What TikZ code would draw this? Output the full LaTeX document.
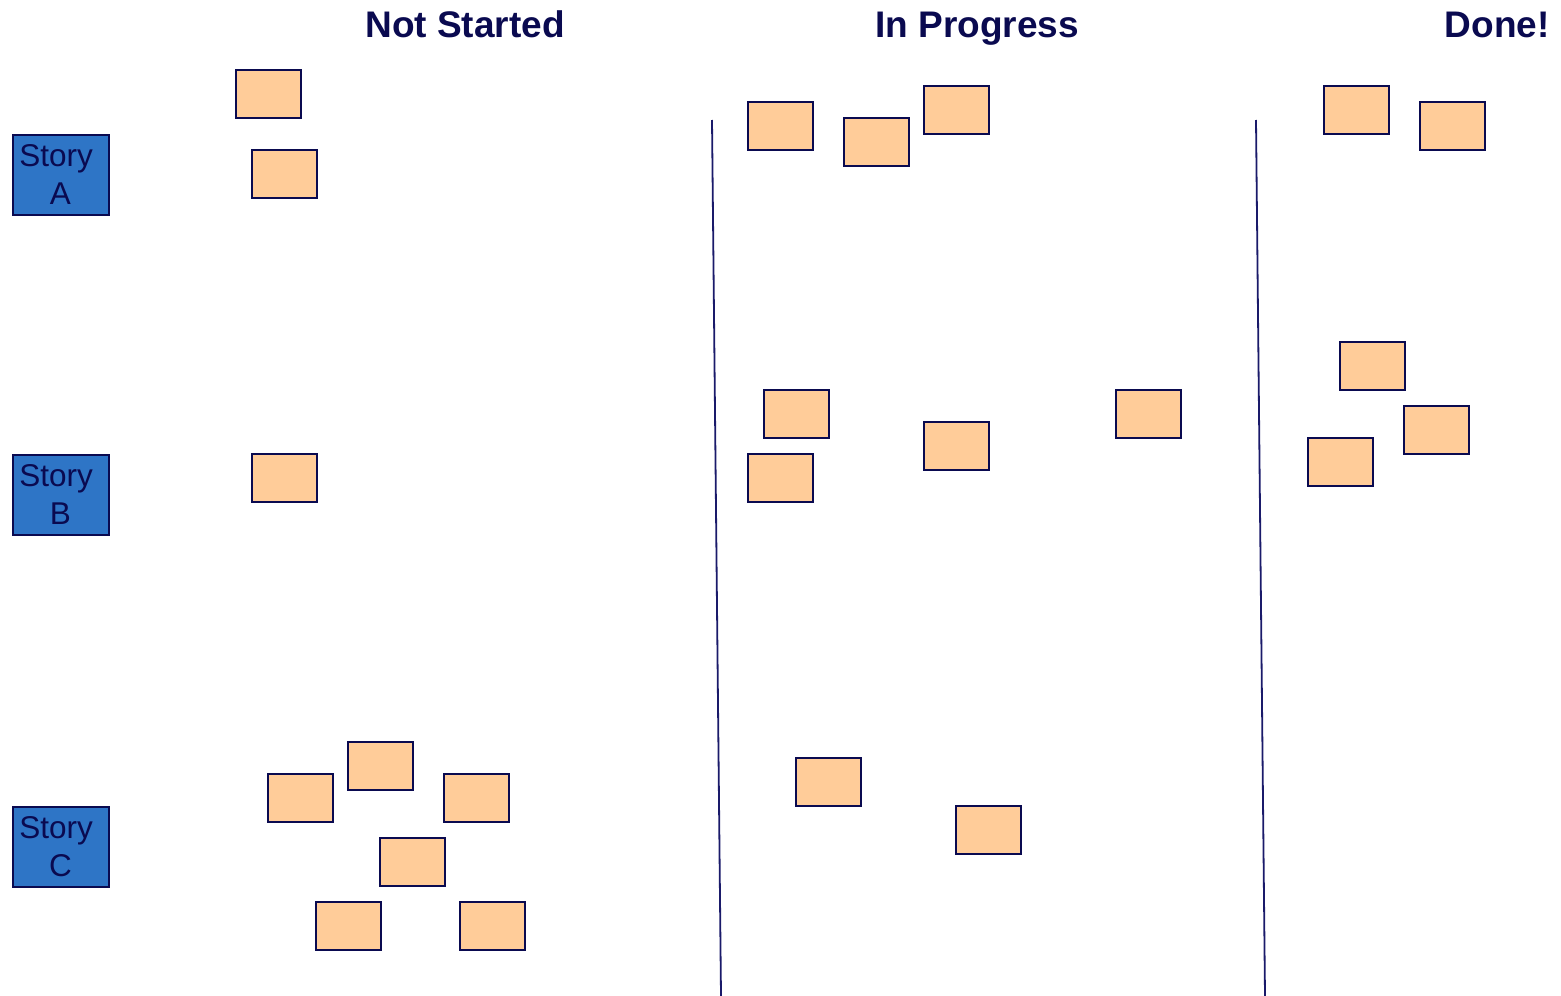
\documentclass[tikz,border=0pt]{standalone}
\usepackage{fontspec}
\setmainfont{Liberation Sans}
\definecolor{navy}{HTML}{0A0A50}
\definecolor{linecol}{HTML}{1A1A6A}
\definecolor{storyfill}{HTML}{2E75C6}
\definecolor{notefill}{HTML}{FFCC99}
\begin{document}
\begin{tikzpicture}[x=1pt,y=-1pt,
  note/.style={draw=navy,line width=1.8pt,fill=notefill},
  story/.style={draw=navy,line width=2pt,fill=storyfill,minimum width=96pt,minimum height=80pt,inner sep=0pt,align=center,text=navy,font=\fontsize{31.5}{38}\selectfont},
  header/.style={text=navy,font=\fontsize{37}{40}\selectfont\bfseries,inner sep=0pt},
  divider/.style={draw=linecol,line width=1.8pt}]
\useasboundingbox (0,0) rectangle (1561,996);
% headers
\node[header,anchor=base] (h1) at (465,37.5) {Not Started};
\node[header,anchor=base] (h2) at (977,37.5) {In Progress};
\node[header,anchor=base east] (h3) at (1550,37.5) {Done!};
% dividers
\coordinate (d1a) at (712,120); \coordinate (d1b) at (721,996);
\coordinate (d2a) at (1256,120); \coordinate (d2b) at (1265,996);
\draw[divider] (d1a) -- (d1b);
\draw[divider] (d2a) -- (d2b);
% stories
\node[story] (sa) at (60.5,174.5) {Story\kern8.6pt\\A};
\node[story] (sb) at (60.5,494.5) {Story\kern8.6pt\\B};
\node[story] (sc) at (60.5,846.5) {Story\kern8.6pt\\C};
% notes
\foreach \x/\y [count=\i] in {236/70,252/150,252/454,348/742,268/774,444/774,380/838,316/902,460/902,
  748/102,844/118,924/86,764/390,924/422,1116/390,748/454,796/758,956/806,
  1324/86,1420/102,1340/342,1404/406,1308/438}{
  \draw[note] (\x,\y) rectangle ++(65,48);
}
\end{tikzpicture}
\end{document}
